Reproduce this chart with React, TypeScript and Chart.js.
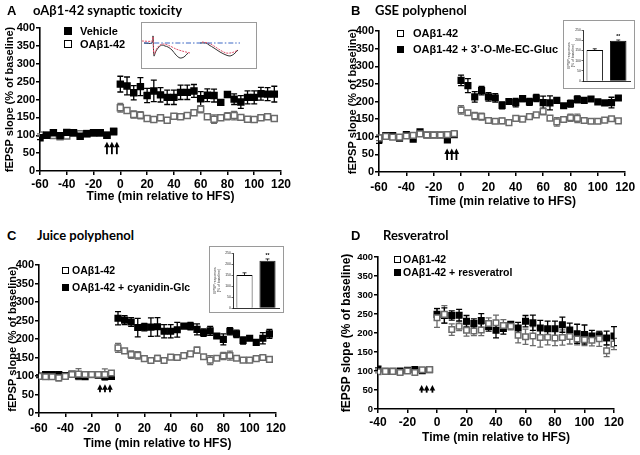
import React, { useEffect, useRef } from 'react';
import { Chart, registerables } from 'chart.js';

Chart.register(...registerables);

const SANS = '"Liberation Sans", Arial, Helvetica, sans-serif';
const TITLE_FONT = 'Lato, "Open Sans", sans-serif';
const OPEN_GRAY = '#6b6b6b';

// ---------- time points (min relative to HFS) ----------
const BASE_T60 = [-60, -55, -50, -45, -40, -35, -30, -25, -20, -15, -10, -5];
const POST_T115 = [0, 5, 10, 15, 20, 25, 30, 35, 40, 45, 50, 55, 60, 65, 70, 75, 80, 85, 90, 95, 100, 105, 110, 115];
const BASE_T40 = [-40, -35, -30, -25, -20, -15, -10, -5];
const POST_T120 = [0, 5, 10, 15, 20, 25, 30, 35, 40, 45, 50, 55, 60, 65, 70, 75, 80, 85, 90, 95, 100, 105, 110, 115, 120];

// ---------- Panel A: oAβ1-42 synaptic toxicity ----------
const A_VEH_BASE = [93, 100, 107, 99, 108, 107, 97, 104, 107, 107, 100, 110];
const A_VEH_BASE_ERR = [5, 3, 3, 3, 3, 3, 3, 3, 3, 3, 4, 3];
const A_VEH_POST = [243, 238, 219, 236, 211, 224, 213, 206, 206, 220, 220, 224, 202, 212, 211, 192, 214, 201, 193, 206, 206, 216, 215, 215];
const A_VEH_POST_ERR = [22, 25, 20, 25, 20, 30, 20, 20, 20, 20, 20, 18, 20, 18, 18, 4, 6, 15, 18, 18, 18, 18, 18, 22];
const A_OAB_BASE = [101, 100, 99, 96, 98, 106, 104, 105, 106, 106, 100, 112];
const A_OAB_BASE_ERR = [3, 3, 3, 3, 3, 3, 3, 3, 3, 3, 3, 4];
const A_OAB_POST = [177, 169, 158, 156, 147, 144, 149, 142, 153, 152, 155, 163, 173, 152, 145, 149, 153, 155, 150, 145, 144, 149, 152, 147];
const A_OAB_POST_ERR = [12, 5, 10, 10, 4, 4, 8, 4, 6, 6, 4, 6, 10, 4, 12, 6, 10, 12, 6, 4, 4, 4, 4, 4];
const A_ARROWS = [-10, -6.3, -2.6];

// inset traces (A)
const A_TRACE_BLUE_X = [2, 98];
const A_TRACE_BLUE_Y = [25, 25];
const A_TRACE_BLACK1_X = [2, 10, 11, 12, 14, 17, 20, 23, 26, 30, 34, 38, 42, 46];
const A_TRACE_BLACK1_Y = [25, 25, 32, 12, 17, 21, 23, 22, 21, 18, 13, 10, 11, 15];
const A_TRACE_RED1_X = [0, 10, 11, 12, 15, 18, 22, 28, 34, 40, 48];
const A_TRACE_RED1_Y = [27, 27, 31, 14, 20, 23, 24, 22, 19, 17, 15];
const A_TRACE_BLACK2_X = [58, 64, 67, 72, 78, 84, 88, 92, 96];
const A_TRACE_BLACK2_Y = [25, 25, 23, 20, 16, 13, 12, 14, 18];
const A_TRACE_RED2_X = [60, 66, 72, 78, 84, 88, 92, 96];
const A_TRACE_RED2_Y = [26, 25, 22, 18, 15, 15, 16, 18];

// ---------- Panel B: GSE polyphenol ----------
const B_OAB_BASE = [97, 101, 99, 99, 102, 104, 108, 105, 105, 105, 106, 109];
const B_OAB_BASE_ERR = [8, 5, 5, 5, 4, 4, 4, 3, 3, 3, 4, 3];
const B_OAB_POST = [176, 168, 159, 157, 146, 144, 145, 140, 152, 150, 157, 162, 172, 153, 142, 149, 154, 152, 146, 144, 144, 147, 151, 145];
const B_OAB_POST_ERR = [12, 5, 10, 10, 4, 4, 8, 4, 6, 6, 4, 6, 10, 4, 12, 6, 10, 12, 6, 4, 4, 4, 4, 4];
const B_GLUC_BASE = [91, 103, 103, 96, 106, 93, 114, 105, 105, 105, 91, 106];
const B_GLUC_BASE_ERR = [10, 5, 5, 5, 4, 3, 4, 3, 3, 3, 4, 3];
const B_GLUC_POST = [260, 245, 213, 231, 213, 210, 189, 200, 197, 208, 199, 210, 197, 196, 203, 188, 194, 206, 203, 207, 199, 196, 197, 210];
const B_GLUC_POST_ERR = [15, 20, 15, 12, 12, 12, 10, 8, 12, 8, 10, 10, 18, 20, 5, 5, 10, 10, 5, 5, 5, 5, 15, 5];
const B_ARROWS = [-10.2, -6.8, -3.4];
const B_INSET_LABELS = ['OAβ1-42', 'OAβ1-42 + 3’-O-Me-EC-Gluc'];
const B_INSET_VALUES = [152, 197];
const B_INSET_ERR = [6, 4];
const B_INSET_STARS = ['', '**'];

// ---------- Panel C: Juice polyphenol ----------
const C_OAB_BASE = [99, 98, 98, 95, 99, 104, 105, 104, 104, 104, 104, 108];
const C_OAB_BASE_ERR = [4, 4, 4, 8, 4, 4, 15, 4, 8, 4, 15, 4];
const C_OAB_POST = [176, 168, 158, 156, 147, 142, 148, 142, 151, 150, 155, 160, 170, 152, 143, 148, 154, 155, 148, 143, 143, 147, 150, 145];
const C_OAB_POST_ERR = [12, 5, 10, 10, 4, 4, 8, 4, 6, 6, 4, 6, 8, 4, 12, 6, 10, 12, 6, 4, 4, 4, 4, 4];
const C_CYA_BASE = [100, 104, 104, 104, 101, 105, 100, 98, 104, 102, 98, 99];
const C_CYA_BASE_ERR = [3, 3, 3, 3, 3, 3, 3, 3, 3, 3, 3, 3];
const C_CYA_POST = [256, 251, 246, 231, 232, 232, 233, 221, 221, 225, 235, 235, 226, 217, 222, 208, 199, 221, 214, 196, 202, 191, 202, 214];
const C_CYA_POST_ERR = [18, 12, 12, 25, 10, 25, 25, 18, 18, 20, 5, 10, 15, 10, 12, 5, 15, 10, 10, 10, 5, 5, 15, 12];
const C_ARROWS = [-13.7, -9.9, -6.1];
const C_INSET_LABELS = ['OAβ1-42', 'OAβ1-42 + cyanidin-Glc'];
const C_INSET_VALUES = [150, 215];
const C_INSET_ERR = [10, 8];
const C_INSET_STARS = ['', '**'];

// ---------- Panel D: Resveratrol ----------
const D_OAB_BASE = [98, 99, 99, 96, 100, 96, 103, 104];
const D_OAB_BASE_ERR = [3, 2, 2, 3, 2, 3, 3, 3];
const D_OAB_POST = [240, 249, 209, 218, 207, 205, 208, 225, 227, 220, 218, 194, 190, 192, 188, 189, 187, 188, 191, 184, 182, 181, 185, 153, 171];
const D_OAB_POST_ERR = [25, 23, 15, 12, 15, 12, 15, 15, 20, 15, 10, 20, 20, 25, 25, 20, 20, 20, 20, 15, 15, 15, 20, 15, 15];
const D_RES_BASE = [105, 99, 99, 100, 102, 104, 101, 103];
const D_RES_BASE_ERR = [3, 2, 2, 3, 2, 3, 3, 3];
const D_RES_POST = [249, 246, 246, 247, 231, 225, 233, 217, 207, 212, 223, 213, 231, 227, 213, 211, 211, 222, 208, 198, 196, 192, 193, 187, 192];
const D_RES_POST_ERR = [15, 20, 12, 15, 15, 12, 18, 12, 20, 15, 5, 15, 15, 20, 20, 20, 20, 20, 18, 25, 25, 15, 10, 18, 25];
const D_ARROWS = [-10.4, -7, -3.1];

// ---------- helpers ----------
type XY = { x: number; y: number };
const zip = (xs: number[], ys: number[]): XY[] => xs.map((x, i) => ({ x, y: ys[i] }));

interface Series { label: string; data: XY[]; errors: number[]; filled: boolean }
function makeSeries(label: string, tb: number[], vb: number[], eb: number[], tp: number[], vp: number[], ep: number[], filled: boolean): Series {
  return { label, data: zip([...tb, ...tp], [...vb, ...vp]), errors: [...eb, ...ep], filled };
}

interface Rect { x: number; y: number; w: number; h: number }
interface PanelSpec {
  canvas: Rect;
  area: { l: number; t: number; r: number; b: number };
  yTitleCenter: number; yTitleSize: number; yTickSize: number;
  xTickSize: number; xTickCenter: number; xTitleCenter: number;
  xMin: number; xMax: number;
  series: Series[];
  arrows: number[]; arrowFrom: number; arrowTo: number;
  pointR: number;
}

const errorBarPlugin = {
  id: 'errorBars',
  beforeDatasetsDraw(chart: any) {
    const ctx = chart.ctx;
    const yScale = chart.scales.y;
    chart.data.datasets.forEach((ds: any, i: number) => {
      const errs: number[] | undefined = ds.errors;
      if (!errs) return;
      const meta = chart.getDatasetMeta(i);
      ctx.save();
      ctx.strokeStyle = ds.errorColor || '#000';
      ctx.lineWidth = ds.errorWidth || 1.3;
      const cap = ds.errorCap || 3;
      meta.data.forEach((el: any, j: number) => {
        const e = errs[j];
        if (!e) return;
        const raw = ds.data[j];
        const val = typeof raw === 'number' ? raw : raw.y;
        const x = el.x;
        const yTop = yScale.getPixelForValue(val + e);
        const yBot = ds.errorUpOnly ? yScale.getPixelForValue(val) : yScale.getPixelForValue(val - e);
        ctx.beginPath();
        ctx.moveTo(x, yTop); ctx.lineTo(x, yBot);
        ctx.moveTo(x - cap, yTop); ctx.lineTo(x + cap, yTop);
        if (!ds.errorUpOnly) { ctx.moveTo(x - cap, yBot); ctx.lineTo(x + cap, yBot); }
        ctx.stroke();
        if (ds.stars && ds.stars[j]) {
          ctx.fillStyle = '#000';
          ctx.font = `bold ${ds.starSize || 5}px ${SANS}`;
          ctx.textAlign = 'center';
          ctx.textBaseline = 'bottom';
          ctx.fillText(ds.stars[j], x, yTop - 0.5);
        }
      });
      ctx.restore();
    });
  },
};

function arrowPlugin(times: number[], from: number, to: number) {
  return {
    id: 'hfsArrows',
    afterDatasetsDraw(chart: any) {
      const { x, y } = chart.scales;
      const ctx = chart.ctx;
      ctx.save();
      ctx.fillStyle = '#000';
      ctx.strokeStyle = '#000';
      ctx.lineWidth = 1.8;
      times.forEach((t) => {
        const px = x.getPixelForValue(t);
        const top = y.getPixelForValue(to);
        const bot = y.getPixelForValue(from);
        ctx.beginPath();
        ctx.moveTo(px, bot);
        ctx.lineTo(px, top + 4);
        ctx.stroke();
        ctx.beginPath();
        ctx.moveTo(px, top);
        ctx.lineTo(px - 2.8, top + 5.5);
        ctx.lineTo(px + 2.8, top + 5.5);
        ctx.closePath();
        ctx.fill();
      });
      ctx.restore();
    },
  };
}

function timeCourseConfig(p: PanelSpec): any {
  const lh = (s: number) => s * 1.2;
  const padLeft = p.yTitleCenter - lh(p.yTitleSize) / 2 - 3 - p.canvas.x;
  const wY = p.area.l - p.canvas.x - padLeft;
  const xBottom = p.xTitleCenter + lh(12) / 2 + 2;
  const hX = xBottom - p.area.b;
  const padBottom = p.canvas.y + p.canvas.h - xBottom;
  const tickLen = 4;
  const xTickPad = p.xTickCenter - p.area.b - tickLen - lh(p.xTickSize) / 2;
  return {
    type: 'scatter',
    data: {
      datasets: p.series.map((s) => ({
        label: s.label,
        data: s.data,
        errors: s.errors,
        errorColor: s.filled ? '#000' : OPEN_GRAY,
        errorCap: 3,
        pointStyle: 'rect',
        pointRadius: p.pointR,
        pointHoverRadius: p.pointR,
        pointBackgroundColor: s.filled ? '#000' : '#fff',
        pointBorderColor: s.filled ? '#000' : OPEN_GRAY,
        pointBorderWidth: 1.5,
        showLine: false,
      })),
    },
    options: {
      responsive: false,
      animation: false,
      events: [],
      layout: { padding: { left: padLeft, top: p.area.t - p.canvas.y, right: p.canvas.x + p.canvas.w - p.area.r, bottom: padBottom } },
      plugins: { legend: { display: false }, tooltip: { enabled: false }, title: { display: false } },
      scales: {
        x: {
          type: 'linear', min: p.xMin, max: p.xMax,
          ticks: { stepSize: 20, color: '#000', font: { family: SANS, size: p.xTickSize, weight: 'bold' }, padding: xTickPad, maxRotation: 0 },
          grid: { display: true, drawOnChartArea: false, drawTicks: true, tickLength: tickLen, color: '#000', lineWidth: 1.5 },
          border: { display: true, color: '#000', width: 1.6 },
          title: { display: true, text: 'Time (min relative to HFS)', color: '#000', font: { family: SANS, size: 12, weight: 'bold' }, padding: { top: 0, bottom: 2 } },
          afterFit: (s: any) => { s.height = hX; },
        },
        y: {
          type: 'linear', min: 0, max: 400,
          ticks: { stepSize: 50, color: '#000', font: { family: SANS, size: p.yTickSize, weight: 'bold' }, padding: 1 },
          grid: { display: true, drawOnChartArea: false, drawTicks: true, tickLength: tickLen, color: '#000', lineWidth: 1.5 },
          border: { display: true, color: '#000', width: 1.6 },
          title: { display: true, text: 'fEPSP slope (% of baseline)', color: '#000', font: { family: SANS, size: p.yTitleSize, weight: 'bold' }, padding: { top: 3, bottom: 0 } },
          afterFit: (s: any) => { s.width = wY; },
        },
      },
    },
    plugins: [errorBarPlugin, arrowPlugin(p.arrows, p.arrowFrom, p.arrowTo)],
  };
}

interface BarInsetSpec { box: Rect; area: { l: number; t: number; r: number; b: number }; labels: string[]; values: number[]; errors: number[]; stars: string[] }
function barInsetConfig(s: BarInsetSpec): any {
  const padLeft = 2;
  const wY = s.area.l - s.box.x - padLeft;
  return {
    type: 'bar',
    data: {
      labels: s.labels,
      datasets: [{
        data: s.values,
        errors: s.errors,
        errorUpOnly: true,
        errorColor: '#000',
        errorWidth: 0.8,
        errorCap: 2,
        stars: s.stars,
        starSize: 5,
        backgroundColor: ['#fff', '#000'],
        borderColor: '#000',
        borderWidth: 0.9,
        barPercentage: 0.7,
        categoryPercentage: 1,
      }],
    },
    options: {
      responsive: false,
      animation: false,
      events: [],
      layout: { padding: { left: padLeft, top: s.area.t - s.box.y, right: s.box.x + s.box.w - s.area.r, bottom: s.box.y + s.box.h - s.area.b } },
      plugins: { legend: { display: false }, tooltip: { enabled: false } },
      scales: {
        x: {
          ticks: { display: false },
          grid: { display: false },
          border: { display: true, color: '#000', width: 0.8 },
          afterFit: (sc: any) => { sc.height = 0; },
        },
        y: {
          min: 0, max: 250,
          ticks: { stepSize: 50, color: '#333', font: { family: SANS, size: 3.5 }, padding: 0.5 },
          grid: { display: true, drawOnChartArea: false, tickLength: 1.5, color: '#000', lineWidth: 0.6 },
          border: { display: true, color: '#000', width: 0.8 },
          title: { display: true, text: ['EPSP responses', '(% of baseline)'], color: '#333', font: { family: SANS, size: 3.5 }, padding: { top: 1, bottom: 0 } },
          afterFit: (sc: any) => { sc.width = wY; },
        },
      },
    },
    plugins: [errorBarPlugin],
  };
}

function traceInsetConfig(): any {
  const line = (xs: number[], ys: number[], color: string, dash: number[]) => ({
    data: zip(xs, ys), borderColor: color, borderWidth: 1, borderDash: dash, pointRadius: 0, tension: 0.3, fill: false,
  });
  return {
    type: 'line',
    data: {
      datasets: [
        line(A_TRACE_BLUE_X, A_TRACE_BLUE_Y, '#3a66c4', [5, 2, 1.5, 2]),
        line(A_TRACE_RED1_X, A_TRACE_RED1_Y, '#e0506a', [2, 1]),
        line(A_TRACE_RED2_X, A_TRACE_RED2_Y, '#e0506a', [2, 1]),
        line(A_TRACE_BLACK1_X, A_TRACE_BLACK1_Y, '#333', []),
        line(A_TRACE_BLACK2_X, A_TRACE_BLACK2_Y, '#333', []),
      ],
    },
    options: {
      responsive: false,
      animation: false,
      events: [],
      layout: { padding: 0 },
      plugins: { legend: { display: false }, tooltip: { enabled: false } },
      scales: {
        x: { type: 'linear', min: 0, max: 114, display: false },
        y: { type: 'linear', min: 0, max: 45, display: false },
      },
    },
  };
}

// ---------- panel layouts ----------
const PANELS: PanelSpec[] = [
  {
    canvas: { x: 0, y: 14, w: 320, h: 200 }, area: { l: 40, t: 28, r: 281, b: 171 },
    yTitleCenter: 10, yTitleSize: 11, yTickSize: 11, xTickSize: 12, xTickCenter: 185, xTitleCenter: 197,
    xMin: -60, xMax: 120, pointR: 4.2,
    series: [
      makeSeries('Vehicle', BASE_T60, A_VEH_BASE, A_VEH_BASE_ERR, POST_T115, A_VEH_POST, A_VEH_POST_ERR, true),
      makeSeries('OAβ1-42', BASE_T60, A_OAB_BASE, A_OAB_BASE_ERR, POST_T115, A_OAB_POST, A_OAB_POST_ERR, false),
    ],
    arrows: A_ARROWS, arrowFrom: 47, arrowTo: 82,
  },
  {
    canvas: { x: 320, y: 14, w: 320, h: 200 }, area: { l: 379, t: 31, r: 626, b: 172 },
    yTitleCenter: 352.5, yTitleSize: 11, yTickSize: 11, xTickSize: 12, xTickCenter: 188, xTitleCenter: 201.5,
    xMin: -60, xMax: 120, pointR: 4,
    series: [
      makeSeries('OAβ1-42', BASE_T60, B_OAB_BASE, B_OAB_BASE_ERR, POST_T115, B_OAB_POST, B_OAB_POST_ERR, false),
      makeSeries('OAβ1-42 + 3’-O-Me-EC-Gluc', BASE_T60, B_GLUC_BASE, B_GLUC_BASE_ERR, POST_T115, B_GLUC_POST, B_GLUC_POST_ERR, true),
    ],
    arrows: B_ARROWS, arrowFrom: 34, arrowTo: 67,
  },
  {
    canvas: { x: 0, y: 245, w: 320, h: 210 }, area: { l: 39, t: 265, r: 276, b: 413 },
    yTitleCenter: 12.5, yTitleSize: 11, yTickSize: 11, xTickSize: 12, xTickCenter: 429, xTitleCenter: 443.5,
    xMin: -60, xMax: 120, pointR: 4,
    series: [
      makeSeries('OAβ1-42', BASE_T60, C_OAB_BASE, C_OAB_BASE_ERR, POST_T115, C_OAB_POST, C_OAB_POST_ERR, false),
      makeSeries('OAβ1-42 + cyanidin-Glc', BASE_T60, C_CYA_BASE, C_CYA_BASE_ERR, POST_T115, C_CYA_POST, C_CYA_POST_ERR, true),
    ],
    arrows: C_ARROWS, arrowFrom: 56, arrowTo: 78,
  },
  {
    canvas: { x: 320, y: 245, w: 320, h: 210 }, area: { l: 378, t: 257, r: 614, b: 409 },
    yTitleCenter: 347, yTitleSize: 12, yTickSize: 9.5, xTickSize: 12, xTickCenter: 423, xTitleCenter: 437.5,
    xMin: -40, xMax: 120, pointR: 3.9,
    series: [
      makeSeries('OAβ1-42', BASE_T40, D_OAB_BASE, D_OAB_BASE_ERR, POST_T120, D_OAB_POST, D_OAB_POST_ERR, false),
      makeSeries('OAβ1-42 + resveratrol', BASE_T40, D_RES_BASE, D_RES_BASE_ERR, POST_T120, D_RES_POST, D_RES_POST_ERR, true),
    ],
    arrows: D_ARROWS, arrowFrom: 43, arrowTo: 63,
  },
];

const TRACE_BOX: Rect = { x: 142, y: 23, w: 114, h: 45 };
const BAR_INSETS: BarInsetSpec[] = [
  { box: { x: 564, y: 21, w: 70, h: 67 }, area: { l: 583, t: 30, r: 630, b: 81 }, labels: B_INSET_LABELS, values: B_INSET_VALUES, errors: B_INSET_ERR, stars: B_INSET_STARS },
  { box: { x: 210, y: 247, w: 73, h: 65 }, area: { l: 233, t: 253, r: 279, b: 308 }, labels: C_INSET_LABELS, values: C_INSET_VALUES, errors: C_INSET_ERR, stars: C_INSET_STARS },
];

interface Heading { letter: string; letterX: number; title: string; titleX: number; y: number }
const HEADINGS: Heading[] = [
  { letter: 'A', letterX: 7, title: 'oAβ1-42 synaptic toxicity', titleX: 33, y: 10 },
  { letter: 'B', letterX: 351, title: 'GSE polyphenol', titleX: 375, y: 10 },
  { letter: 'C', letterX: 7, title: 'Juice polyphenol', titleX: 37, y: 235 },
  { letter: 'D', letterX: 351, title: 'Resveratrol', titleX: 383, y: 235 },
];

interface LegendSpec { sqX: number; textX: number; size: number; sq: number; rows: { label: string; filled: boolean; y: number }[] }
const LEGENDS: LegendSpec[] = [
  { sqX: 64, textX: 80, size: 11, sq: 8, rows: [{ label: 'Vehicle', filled: true, y: 31 }, { label: 'OAβ1-42', filled: false, y: 44 }] },
  { sqX: 397, textX: 413, size: 11, sq: 7, rows: [{ label: 'OAβ1-42', filled: false, y: 33 }, { label: 'OAβ1-42 + 3’-O-Me-EC-Gluc', filled: true, y: 49 }] },
  { sqX: 62, textX: 72, size: 10.5, sq: 7, rows: [{ label: 'OAβ1-42', filled: false, y: 270 }, { label: 'OAβ1-42 + cyanidin-Glc', filled: true, y: 287 }] },
  { sqX: 394, textX: 403, size: 10.5, sq: 7, rows: [{ label: 'OAβ1-42', filled: false, y: 259 }, { label: 'OAβ1-42 + resveratrol', filled: true, y: 272 }] },
];

const abs = (x: number, y: number, w?: number, h?: number): React.CSSProperties => ({ position: 'absolute', left: x, top: y, width: w, height: h });

export default function App() {
  const panelRefs = useRef<(HTMLCanvasElement | null)[]>([]);
  const barRefs = useRef<(HTMLCanvasElement | null)[]>([]);
  const traceRef = useRef<HTMLCanvasElement | null>(null);

  useEffect(() => {
    Chart.defaults.font.family = SANS;
    const charts: Chart[] = [];
    PANELS.forEach((p, i) => {
      const c = panelRefs.current[i];
      if (c) charts.push(new Chart(c, timeCourseConfig(p)));
    });
    BAR_INSETS.forEach((b, i) => {
      const c = barRefs.current[i];
      if (c) charts.push(new Chart(c, barInsetConfig(b)));
    });
    if (traceRef.current) charts.push(new Chart(traceRef.current, traceInsetConfig()));
    return () => charts.forEach((c) => c.destroy());
  }, []);

  return (
    <div style={{ position: 'fixed', left: 0, top: 0, width: 640, height: 455, background: '#fff', overflow: 'hidden' }}>
      {PANELS.map((p, i) => (
        <canvas key={'p' + i} ref={(el) => { panelRefs.current[i] = el; }} width={p.canvas.w} height={p.canvas.h}
          style={{ ...abs(p.canvas.x, p.canvas.y, p.canvas.w, p.canvas.h), display: 'block' }} />
      ))}
      <div style={{ ...abs(TRACE_BOX.x - 1, TRACE_BOX.y - 1, TRACE_BOX.w, TRACE_BOX.h), border: '1px solid #9a9a9a', background: '#fff' }} />
      <canvas ref={traceRef} width={TRACE_BOX.w} height={TRACE_BOX.h} style={{ ...abs(TRACE_BOX.x, TRACE_BOX.y, TRACE_BOX.w, TRACE_BOX.h), display: 'block' }} />
      {BAR_INSETS.map((b, i) => (
        <React.Fragment key={'b' + i}>
          <div style={{ ...abs(b.box.x - 1, b.box.y - 1, b.box.w, b.box.h), border: '1px solid #9a9a9a', background: '#fff' }} />
          <canvas ref={(el) => { barRefs.current[i] = el; }} width={b.box.w} height={b.box.h}
            style={{ ...abs(b.box.x, b.box.y, b.box.w, b.box.h), display: 'block' }} />
        </React.Fragment>
      ))}
      {HEADINGS.map((h, i) => (
        <React.Fragment key={'h' + i}>
          <div style={{ ...abs(h.letterX, h.y), transform: 'translateY(-50%)', font: `bold 13px ${SANS}`, lineHeight: '15px', color: '#000' }}>{h.letter}</div>
          <div style={{ ...abs(h.titleX, h.y), transform: 'translateY(-50%)', font: `bold 13px ${TITLE_FONT}`, lineHeight: '15px', color: '#000', whiteSpace: 'nowrap' }}>{h.title}</div>
        </React.Fragment>
      ))}
      {LEGENDS.map((l, i) => (
        <React.Fragment key={'l' + i}>
          {l.rows.map((r, j) => (
            <React.Fragment key={j}>
              <div style={{ ...abs(l.sqX, r.y - l.sq / 2, l.sq, l.sq), boxSizing: 'border-box', border: '1.5px solid #000', background: r.filled ? '#000' : '#fff' }} />
              <div style={{ ...abs(l.textX, r.y), transform: 'translateY(-50%)', font: `bold ${l.size}px ${SANS}`, lineHeight: `${l.size + 2}px`, color: '#000', whiteSpace: 'nowrap' }}>{r.label}</div>
            </React.Fragment>
          ))}
        </React.Fragment>
      ))}
    </div>
  );
}
